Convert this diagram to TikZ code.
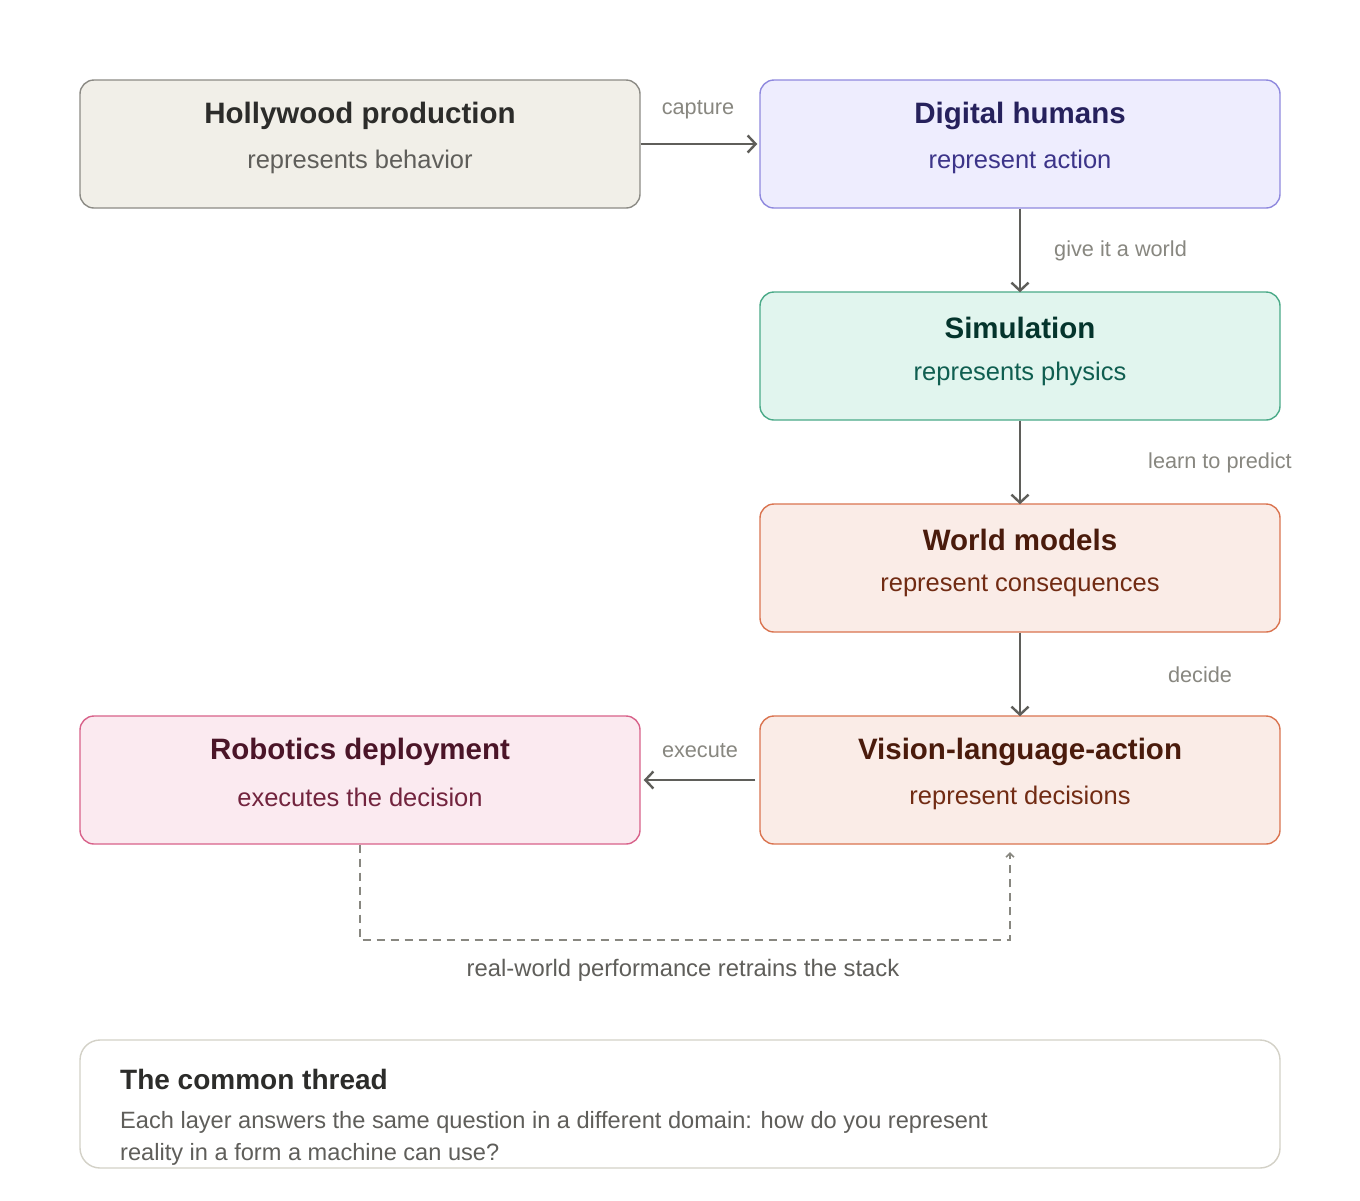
\documentclass[tikz,border=0pt]{standalone}
\usepackage{fontspec}
\setmainfont{Liberation Sans}
\usetikzlibrary{arrows.meta}
\definecolor{grayF}{HTML}{F1EFE8}\definecolor{grayS}{HTML}{8C8B85}\definecolor{grayT}{HTML}{2C2C2A}\definecolor{grayU}{HTML}{5F5E5A}
\definecolor{purF}{HTML}{EEEDFE}\definecolor{purS}{HTML}{8F89DE}\definecolor{purT}{HTML}{26215C}\definecolor{purU}{HTML}{3C3489}
\definecolor{tealF}{HTML}{E1F5EE}\definecolor{tealS}{HTML}{4AAA88}\definecolor{tealT}{HTML}{04342C}\definecolor{tealU}{HTML}{0F5E50}
\definecolor{corF}{HTML}{FAECE7}\definecolor{corS}{HTML}{DA7450}\definecolor{corT}{HTML}{4A1B0C}\definecolor{corU}{HTML}{712B13}
\definecolor{pinkF}{HTML}{FBEAF0}\definecolor{pinkS}{HTML}{D8628A}\definecolor{pinkT}{HTML}{4B1528}\definecolor{pinkU}{HTML}{72243E}
\definecolor{noteS}{HTML}{D3D1C7}
\definecolor{arrC}{HTML}{5F5E5A}\definecolor{lblC}{HTML}{888780}
\tikzset{
  boxbase/.style={draw, rounded corners=14pt, line width=1.4pt, minimum width=560pt, minimum height=128pt, inner sep=0pt},
  widebox/.style={boxbase, minimum width=520pt},
  ttl/.style={font=\fontsize{29.5}{34}\selectfont\bfseries, inner sep=0pt},
  sub/.style={font=\fontsize{25.5}{30}\selectfont, inner sep=0pt},
  elbl/.style={font=\fontsize{21.7}{26}\selectfont, text=lblC, inner sep=0pt},
  flow/.style={draw=arrC, line width=2.5pt, -{Straight Barb[length=8pt,width=17pt,line width=2.4pt]}},
  fb/.style={draw=lblC, line width=1.8pt, dash pattern=on 8pt off 6pt, -{Straight Barb[length=4pt,width=8pt,line width=1.6pt]}}
}
\begin{document}
\begin{tikzpicture}[x=1pt,y=-1pt]
\useasboundingbox (0,0) rectangle (1360,1200);
\fill[white] (0,0) rectangle (1360,1200);
% boxes
\node[boxbase, fill=grayF, draw=grayS] (holly) at (360,144) {};
\node[ttl, text=grayT] (hollyT) at (360,116) {Hollywood production};
\node[sub, text=grayU] (hollyS) at (360,162) {represents behavior};

\node[widebox, fill=purF, draw=purS] (dig) at (1020,144) {};
\node[ttl, text=purT] (digT) at (1020,116) {Digital humans};
\node[sub, text=purU] (digS) at (1020,162) {represent action};

\node[widebox, fill=tealF, draw=tealS] (sim) at (1020,356) {};
\node[ttl, text=tealT] (simT) at (1020,328) {Simulation};
\node[sub, text=tealU] (simS) at (1020,374) {represents physics};

\node[widebox, fill=corF, draw=corS] (wm) at (1020,568) {};
\node[ttl, text=corT] (wmT) at (1020,540) {World models};
\node[sub, text=corU] (wmS) at (1020,586) {represent consequences};

\node[widebox, fill=corF, draw=corS] (vla) at (1020,780) {};
\node[ttl, text=corT] (vlaT) at (1020,752) {Vision-language-action};
\node[sub, text=corU] (vlaS) at (1020,798) {represent decisions};

\node[boxbase, fill=pinkF, draw=pinkS] (rob) at (360,780) {};
\node[ttl, text=pinkT] (robT) at (360,752) {Robotics deployment};
\node[sub, text=pinkU] (robS) at (360,797) {executes the decision};

% connectors
\draw[flow] (holly.east) -- ([xshift=-2pt]dig.west);
\node[elbl] (lcap) at (698,110) {capture};
\draw[flow] (dig.south) -- ([yshift=-1pt]sim.north);
\node[elbl, anchor=west] (lgive) at (1054,251) {give it a world};
\draw[flow] (sim.south) -- ([yshift=-1pt]wm.north);
\node[elbl, anchor=west] (llearn) at (1148,463) {learn to predict};
\draw[flow] (wm.south) -- ([yshift=-1pt]vla.north);
\node[elbl] (ldec) at (1200,675) {decide};
\draw[flow] ([xshift=-4pt]vla.west) -- ([xshift=3pt]rob.east);
\node[elbl] (lexe) at (700,751) {execute};

\coordinate (fb1) at (360,940);
\coordinate (fb2) at (1010,940);
\coordinate (fbend) at (1010,852);
\draw[fb] (rob.south) -- (fb1) -- (fb2) -- (fbend);
\node[font=\fontsize{23.8}{28}\selectfont, text=grayU, inner sep=0pt] (lfb) at (683,970) {real-world performance retrains the stack};

% note
\node[draw=noteS, fill=white, rounded corners=20pt, line width=1.4pt, minimum width=1200pt, minimum height=128pt, inner sep=0pt] (note) at (680,1104) {};
\node[font=\fontsize{28}{32}\selectfont\bfseries, text=grayT, anchor=west, inner sep=0pt] (noteT) at (120,1079) {The common thread};
\node[font=\fontsize{23.6}{28}\selectfont, text=grayU, anchor=west, inner sep=0pt] (noteB1) at (120,1122) {Each layer answers the same question in a different domain: how do you represent};
\node[font=\fontsize{23.6}{28}\selectfont, text=grayU, anchor=west, inner sep=0pt] (noteB2) at (120,1154) {reality in a form a machine can use?};
\end{tikzpicture}
\end{document}
